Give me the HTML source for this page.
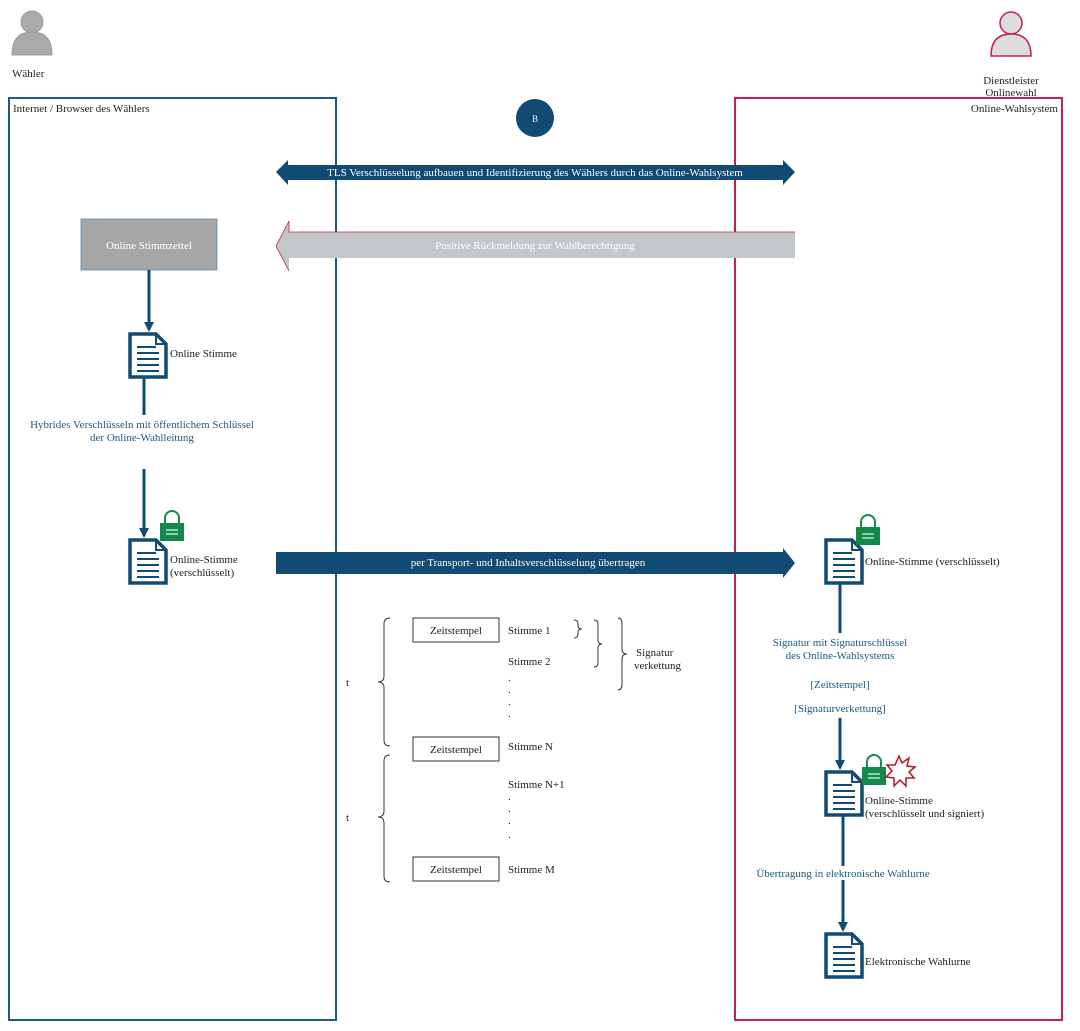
<!DOCTYPE html>
<html><head><meta charset="utf-8"><style>
html,body{margin:0;padding:0;background:#fff}
svg{display:block}
text{font-family:"Liberation Serif",serif;font-size:11px;fill:#222}
.w{fill:#fff}.b{fill:#1c5a80}
</style></head><body>
<svg width="1080" height="1031" viewBox="0 0 1080 1031">
<defs>
<g id="doc"><path d="M2,2 H28 L38,12 V45 H2 Z" fill="#fff" stroke="#114a73" stroke-width="3.5"/><path d="M28,2 V12 H38" fill="none" stroke="#114a73" stroke-width="2"/>
<path d="M9,15H28M9,21H31M9,27H31M9,33H31M9,39H31" stroke="#114a73" stroke-width="2"/></g>
<g id="lock"><path d="M5,11 V6 a7,7 0 0 1 14,0 V11" fill="none" stroke="#1a8a4a" stroke-width="2"/><rect x="0" y="11" width="24" height="18" fill="#15884a"/><path d="M6,18H18M6,22H18" stroke="#cfe" stroke-width="1.2"/></g>
<marker id="ah" markerWidth="10" markerHeight="10" refX="8" refY="5" orient="auto" markerUnits="userSpaceOnUse"><path d="M0,0 L10,5 L0,10Z" fill="#114a73"/></marker>
</defs>
<!-- persons -->
<g><circle cx="32" cy="22" r="11" fill="#aaa" stroke="#999"/><path d="M12,55 Q12,32 32,32 Q52,32 52,55Z" fill="#aaa" stroke="#999"/></g>
<text x="12" y="77">Wähler</text>
<g><circle cx="1011" cy="23" r="11" fill="#ddd" stroke="#c8204a" stroke-width="1.5"/><path d="M991,56 Q991,34 1011,34 Q1031,34 1031,56Z" fill="#ddd" stroke="#c8204a" stroke-width="1.5"/></g>
<text x="1011" y="84" text-anchor="middle">Dienstleister</text><text x="1011" y="96" text-anchor="middle">Onlinewahl</text>
<!-- boxes -->
<rect x="9" y="98" width="327" height="922" fill="none" stroke="#1c5a80" stroke-width="2"/>
<text x="13" y="112">Internet / Browser des Wählers</text>
<rect x="735" y="98" width="327" height="922" fill="none" stroke="#c8204a" stroke-width="2"/>
<text x="1058" y="112" text-anchor="end">Online-Wahlsystem</text>
<circle cx="535" cy="118" r="19" fill="#114a73"/><text x="535" y="122" text-anchor="middle" class="w" style="font-size:9px">B</text>
<!-- arrows -->
<path d="M276,172 L288,160 V165 H783 V160 L795,172 L783,185 V180 H288 V185Z" fill="#114a73"/>
<text x="535" y="176" text-anchor="middle" class="w">TLS Verschlüsselung aufbauen und Identifizierung des Wählers durch das Online-Wahlsystem</text>
<path d="M795,232 H289 V221 L276,246 L289,271 V258 H795Z" fill="#c3c7ca"/>
<path d="M795,232 H289 V221 L276,246 L289,271" fill="none" stroke="#c8204a" stroke-width="0.8"/>
<text x="535" y="249" text-anchor="middle" class="w">Positive Rückmeldung zur Wahlberechtigung</text>
<path d="M276,552 H783 V548 L795,563 L783,578 V574 H276Z" fill="#114a73"/>
<text x="528" y="566" text-anchor="middle" class="w">per Transport- und Inhaltsverschlüsselung übertragen</text>
<!-- left flow -->
<rect x="81" y="219" width="136" height="51" fill="#a6a6a6" stroke="#5a8ab0" stroke-width="0.8"/>
<text x="149" y="249" text-anchor="middle" class="w">Online Stimmzettel</text>
<line x1="149" y1="270" x2="149" y2="330" stroke="#114a73" stroke-width="3" marker-end="url(#ah)"/>
<use href="#doc" x="128" y="332"/><text x="170" y="357">Online Stimme</text>
<line x1="144" y1="378" x2="144" y2="536" stroke="#114a73" stroke-width="3" marker-end="url(#ah)"/>
<rect x="20" y="415" width="250" height="54" fill="#fff"/>
<text x="142" y="428" text-anchor="middle" class="b">Hybrides Verschlüsseln mit öffentlichem Schlüssel</text>
<text x="142" y="441" text-anchor="middle" class="b">der Online-Wahlleitung</text>
<use href="#doc" x="128" y="538"/><use href="#lock" x="160" y="512"/>
<text x="170" y="563">Online-Stimme</text><text x="170" y="576">(verschlüsselt)</text>
<!-- right flow -->
<use href="#doc" x="824" y="538"/><use href="#lock" x="856" y="516"/>
<text x="865" y="565">Online-Stimme (verschlüsselt)</text>
<line x1="840" y1="583" x2="840" y2="768" stroke="#114a73" stroke-width="3" marker-end="url(#ah)"/>
<rect x="755" y="633" width="170" height="85" fill="#fff"/>
<text x="840" y="646" text-anchor="middle" class="b">Signatur mit Signaturschlüssel</text>
<text x="840" y="659" text-anchor="middle" class="b">des Online-Wahlsystems</text>
<text x="840" y="688" text-anchor="middle" class="b">[Zeitstempel]</text>
<text x="840" y="712" text-anchor="middle" class="b">[Signaturverkettung]</text>
<use href="#doc" x="824" y="770"/><use href="#lock" x="862" y="756"/>
<path d="M899,756 L902,763 L909,758 L907,766 L915,767 L909,772 L914,778 L906,778 L906,786 L900,780 L894,786 L894,778 L886,777 L892,771 L887,765 L895,765Z" fill="#fff" stroke="#c01020" stroke-width="1.5"/>
<text x="865" y="804">Online-Stimme</text><text x="865" y="817">(verschlüsselt und signiert)</text>
<line x1="843" y1="815" x2="843" y2="930" stroke="#114a73" stroke-width="3" marker-end="url(#ah)"/>
<rect x="750" y="866" width="190" height="14" fill="#fff"/>
<text x="843" y="877" text-anchor="middle" class="b">Übertragung in elektronische Wahlurne</text>
<use href="#doc" x="824" y="932"/><text x="865" y="965">Elektronische Wahlurne</text>
<!-- middle timeline -->
<g fill="#fff" stroke="#333" stroke-width="1">
<rect x="413" y="618" width="86" height="24"/><rect x="413" y="737" width="86" height="24"/><rect x="413" y="857" width="86" height="24"/></g>
<text x="456" y="634" text-anchor="middle">Zeitstempel</text><text x="456" y="753" text-anchor="middle">Zeitstempel</text><text x="456" y="873" text-anchor="middle">Zeitstempel</text>
<text x="508" y="634">Stimme 1</text><text x="508" y="665">Stimme 2</text>
<text x="508" y="681">.</text><text x="508" y="693">.</text><text x="508" y="705">.</text><text x="508" y="717">.</text>
<text x="508" y="750">Stimme N</text><text x="508" y="788">Stimme N+1</text>
<text x="508" y="800">.</text><text x="508" y="812">.</text><text x="508" y="824">.</text><text x="508" y="838">.</text>
<text x="508" y="873">Stimme M</text>
<text x="346" y="686">t</text><text x="346" y="821">t</text>
<g fill="none" stroke="#333" stroke-width="1">
<path d="M390,618 Q384,618 384,624 V676 Q384,682 378,682 Q384,682 384,688 V740 Q384,746 390,746"/>
<path d="M390,755 Q384,755 384,761 V811 Q384,817 378,817 Q384,817 384,823 V876 Q384,882 390,882"/>
<path d="M574,620 Q578,620 578,624 V626 Q578,629 582,629 Q578,629 578,632 V634 Q578,638 574,638"/>
<path d="M594,620 Q598,620 598,624 V640 Q598,644 602,644 Q598,644 598,648 V663 Q598,667 594,667"/>
<path d="M618,618 Q622,618 622,624 V649 Q622,654 627,654 Q622,654 622,659 V684 Q622,690 618,690"/>
</g>
<text x="636" y="656">Signatur</text><text x="634" y="669">verkettung</text>
</svg>
</body></html>
